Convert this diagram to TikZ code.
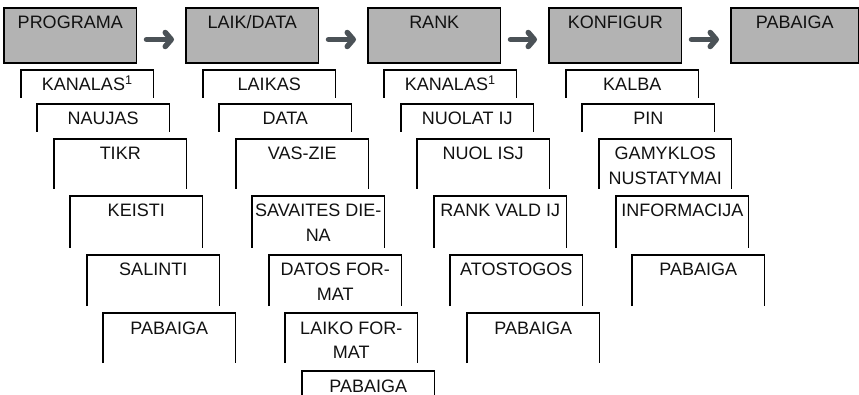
\documentclass[tikz,border=0pt]{standalone}
\usepackage{fontspec}
\setmainfont{Liberation Sans}
\usetikzlibrary{arrows.meta}
\definecolor{hdrfill}{HTML}{B3B3B3}
\definecolor{arrgray}{HTML}{4B5257}
\definecolor{txt}{HTML}{111111}
\newcommand\hdrbox[4]{% name, left, width, text
  \node[hdr, minimum width=#3pt, anchor=north west] (#1) at (#2,8) {};
  \node[lbl] (#1-t) at ([yshift=-21pt]#1.north) {#4};
}
\newcommand\subbox[5]{% name, left, top, height, text
  \node[sub, minimum height=#4pt, anchor=north west] (#1) at (#2,#3) {};
  \draw[subline] (#1.south west) -- (#1.north west) -- (#1.north east) -- (#1.south east);
  \node[lbl] (#1-t) at ([yshift=-21pt]#1.north) {\begin{tabular}[t]{@{}c@{}}#5\end{tabular}};
}
\tikzset{
  hdr/.style={draw=black, line width=1.2pt, fill=hdrfill, minimum height=55pt, inner sep=0pt, outer sep=0pt},
  sub/.style={minimum width=132.5pt, inner sep=0pt, outer sep=0pt},
  subline/.style={line width=1.2pt, line join=miter},
  lbl/.style={anchor=base, inner sep=0pt, outer sep=0pt, text=txt, font=\fontsize{18}{24.5}\selectfont},
  arr/.style={draw=arrgray, line width=5.5pt, line cap=round, -{Straight Barb[length=6pt, width=14pt, round]}, shorten <=10pt, shorten >=12pt}
}
\begin{document}
\begin{tikzpicture}[x=1pt, y=-1pt]
\useasboundingbox (0,0) rectangle (859,395);
% header boxes
\hdrbox{h1}{4}{132.5}{PROGRAMA}
\hdrbox{h2}{186}{132.5}{LAIK/DATA}
\hdrbox{h3}{368}{132.5}{RANK}
\hdrbox{h4}{549}{132.5}{KONFIGUR}
\hdrbox{h5}{731}{127.4}{PABAIGA}
% arrows
\draw[arr] ([yshift=-4pt]h1.east) -- ([yshift=-4pt]h2.west);
\draw[arr] ([yshift=-4pt]h2.east) -- ([yshift=-4pt]h3.west);
\draw[arr] ([yshift=-4pt]h3.east) -- ([yshift=-4pt]h4.west);
\draw[arr] ([yshift=-4pt]h4.east) -- ([yshift=-4pt]h5.west);
% column 1
\subbox{a1}{21}{70}{28}{KANALAS\textsuperscript{1}}
\subbox{a2}{37}{104}{28}{NAUJAS}
\subbox{a3}{54}{139}{50}{TIKR}
\subbox{a4}{70}{196}{52}{KEISTI}
\subbox{a5}{87}{255}{51}{SALINTI}
\subbox{a6}{103}{313}{50}{PABAIGA}
% column 2
\subbox{b1}{203}{70}{28}{LAIKAS}
\subbox{b2}{219}{104}{28}{DATA}
\subbox{b3}{236}{139}{50}{VAS-ZIE}
\subbox{b4}{252}{196}{52}{SAVAITES DIE-\\NA}
\subbox{b5}{269}{255}{51}{DATOS FOR-\\MAT}
\subbox{b6}{285}{313}{50}{LAIKO FOR-\\MAT}
\subbox{b7}{302}{371}{30}{PABAIGA}
% column 3
\subbox{c1}{384}{70}{28}{KANALAS\textsuperscript{1}}
\subbox{c2}{401}{104}{28}{NUOLAT IJ}
\subbox{c3}{417}{139}{50}{NUOL ISJ}
\subbox{c4}{434}{196}{52}{RANK VALD IJ}
\subbox{c5}{450}{255}{51}{ATOSTOGOS}
\subbox{c6}{467}{313}{50}{PABAIGA}
% column 4
\subbox{d1}{566}{70}{28}{KALBA}
\subbox{d2}{582}{104}{28}{PIN}
\subbox{d3}{599}{139}{50}{GAMYKLOS\\NUSTATYMAI}
\subbox{d4}{616}{196}{52}{INFORMACIJA}
\subbox{d5}{632}{255}{51}{PABAIGA}
\end{tikzpicture}
\end{document}
